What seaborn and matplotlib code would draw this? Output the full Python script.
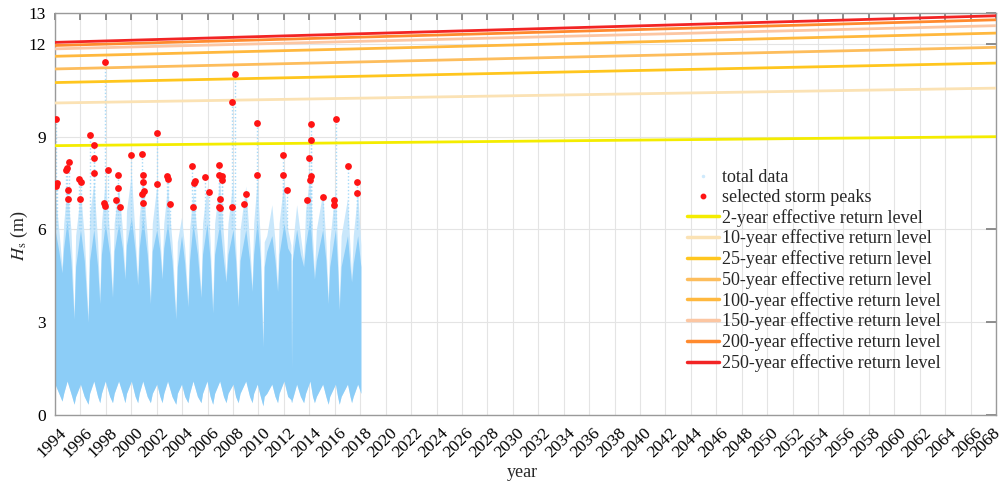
import numpy as np
import pandas as pd
import matplotlib
matplotlib.use("Agg")
import matplotlib.pyplot as plt
import matplotlib.transforms as mtransforms
from matplotlib.lines import Line2D
import seaborn as sns

# envelope of the hourly Hs record:
# time, top of the dense cloud, top of the sparse dots, bottom of the cloud
env_t = [1994.00, 1994.30, 1994.55, 1994.68, 1994.95, 1995.25, 1995.50, 1995.62, 1996.00, 1996.30,
         1996.60, 1996.72, 1997.05, 1997.35, 1997.52, 1997.65, 1997.95, 1998.30, 1998.52, 1998.65,
         1999.00, 1999.30, 1999.50, 1999.62, 2000.00, 2000.30, 2000.50, 2000.62, 2000.90, 2001.25,
         2001.50, 2001.65, 2002.00, 2002.25, 2002.42, 2002.55, 2002.85, 2003.20, 2003.50, 2003.62,
         2003.95, 2004.20, 2004.45, 2004.58, 2004.85, 2005.20, 2005.48, 2005.60, 2005.95, 2006.20,
         2006.40, 2006.55, 2006.95, 2007.25, 2007.45, 2007.60, 2008.00, 2008.20, 2008.40, 2008.55,
         2009.00, 2009.30, 2009.50, 2009.62, 2009.90, 2010.15, 2010.35, 2010.45, 2010.65, 2011.05,
         2011.30, 2011.50, 2011.62, 2012.00, 2012.30, 2012.55, 2012.60, 2012.66, 2013.00, 2013.30,
         2013.55, 2013.70, 2014.05, 2014.25, 2014.40, 2014.55, 2015.05, 2015.30, 2015.48, 2015.60,
         2016.05, 2016.22, 2016.35, 2016.50, 2017.00, 2017.20, 2017.32, 2017.45, 2017.80, 2018.05]
env_dense = [6.0, 5.3, 4.6, 5.4, 6.3, 5.0, 3.1, 4.8, 6.0, 5.0,
             3.0, 5.0, 6.0, 4.8, 3.6, 5.2, 6.2, 5.2, 3.8, 5.3,
             6.2, 5.4, 4.4, 5.5, 6.4, 5.3, 4.2, 5.4, 6.4, 5.2,
             3.6, 5.3, 6.0, 5.3, 4.4, 5.4, 6.2, 5.0, 3.1, 4.8,
             5.8, 4.9, 3.5, 5.0, 6.2, 5.2, 3.8, 5.2, 6.2, 5.0,
             3.3, 5.2, 6.2, 5.0, 4.3, 5.2, 6.0, 5.0, 3.5, 5.0,
             6.0, 5.0, 4.0, 5.2, 6.3, 5.0, 2.2, 4.8, 5.3, 5.8,
             5.0, 4.0, 5.2, 6.2, 5.4, 5.2, 1.5, 5.0, 6.0, 5.2,
             4.8, 5.5, 6.4, 5.2, 4.4, 5.0, 6.0, 5.0, 3.6, 4.8,
             6.0, 4.8, 3.4, 4.8, 5.8, 4.8, 4.3, 4.9, 5.8, 4.8]
env_sparse = [7.2, 6.0, 4.8, 6.2, 7.4, 6.0, 3.3, 5.8, 7.2, 5.8,
              3.2, 6.5, 7.5, 5.6, 3.8, 6.2, 7.6, 5.8, 4.0, 6.2,
              7.4, 6.0, 4.6, 6.6, 7.8, 5.8, 4.4, 6.4, 7.6, 5.8,
              3.8, 6.2, 7.4, 5.8, 4.6, 6.2, 7.4, 5.6, 3.3, 5.6,
              6.4, 5.4, 3.7, 6.0, 7.2, 5.8, 4.0, 6.2, 7.4, 5.6,
              3.5, 6.2, 7.6, 5.8, 4.5, 6.2, 7.6, 5.6, 3.7, 6.0,
              7.4, 5.6, 4.2, 6.2, 7.6, 5.6, 2.4, 5.6, 5.8, 6.8,
              5.6, 4.2, 6.2, 7.6, 6.0, 5.5, 1.7, 5.4, 6.8, 5.8,
              5.0, 6.6, 7.8, 5.8, 4.6, 6.0, 7.2, 5.6, 3.8, 5.6,
              7.4, 5.4, 3.6, 5.8, 7.0, 5.4, 4.5, 5.8, 7.2, 5.5]
env_low = [1.0, 0.7, 0.45, 0.7, 1.1, 0.7, 0.35, 0.6, 1.0, 0.6,
           0.35, 0.7, 1.1, 0.6, 0.4, 0.7, 1.1, 0.6, 0.4, 0.7,
           1.1, 0.7, 0.4, 0.7, 1.1, 0.6, 0.4, 0.7, 1.1, 0.6,
           0.4, 0.7, 1.0, 0.6, 0.4, 0.7, 1.1, 0.6, 0.35, 0.7,
           1.0, 0.6, 0.4, 0.7, 1.1, 0.6, 0.4, 0.7, 1.1, 0.6,
           0.35, 0.7, 1.1, 0.6, 0.4, 0.7, 1.0, 0.6, 0.4, 0.7,
           1.1, 0.6, 0.4, 0.7, 1.0, 0.6, 0.3, 0.6, 0.7, 1.0,
           0.6, 0.4, 0.7, 1.1, 0.6, 0.5, 0.4, 0.5, 1.0, 0.6,
           0.4, 0.7, 1.1, 0.6, 0.4, 0.6, 1.0, 0.6, 0.35, 0.6,
           1.0, 0.6, 0.35, 0.6, 1.0, 0.6, 0.4, 0.6, 1.0, 0.7]

# selected storm peaks
peak_year = [1994.08, 1994.08, 1994.15, 1994.84, 1994.92, 1995.08, 1995.05, 1995.05,
             1995.91, 1996.05, 1995.95, 1996.75, 1997.09, 1997.09, 1997.09, 1997.93,
             1997.88, 1997.95, 1998.19, 1998.95, 1998.95, 1998.80, 1999.10, 1999.95,
             2000.82, 2000.94, 2000.90, 2000.98, 2000.86, 2000.90, 2002.04, 2002.04,
             2002.78, 2002.91, 2003.02, 2004.77, 2005.00, 2004.95, 2004.87, 2005.82,
             2006.08, 2006.89, 2006.91, 2007.13, 2007.15, 2007.00, 2006.89, 2007.00,
             2008.15, 2007.92, 2007.89, 2009.02, 2008.88, 2009.86, 2009.86, 2011.90,
             2011.95, 2012.26, 2014.10, 2014.10, 2014.00, 2014.15, 2014.08, 2013.79,
             2015.09, 2016.09, 2015.96, 2015.96, 2017.06, 2017.77, 2017.77]
peak_hs = [9.58, 7.39, 7.50, 7.93, 7.98, 8.19, 7.26, 6.99,
           7.62, 7.52, 6.98, 9.04, 8.74, 8.31, 7.82, 11.40,
           6.87, 6.76, 7.91, 7.75, 7.34, 6.95, 6.74, 8.40,
           8.45, 7.75, 7.52, 7.24, 7.14, 6.85, 9.12, 7.47,
           7.73, 7.63, 6.83, 8.06, 7.57, 7.50, 6.71, 7.70,
           7.21, 8.09, 7.76, 7.73, 7.60, 6.99, 6.74, 6.70,
           11.03, 10.11, 6.71, 7.15, 6.82, 9.43, 7.76, 8.40,
           7.77, 7.28, 9.42, 8.89, 8.30, 7.73, 7.60, 6.96,
           7.06, 9.56, 6.95, 6.79, 8.05, 7.55, 7.17]

# effective return levels, value at 1994 and at 2068
rl_labels = ["2-year", "10-year", "25-year", "50-year", "100-year", "150-year", "200-year", "250-year"]
rl_start = [8.71, 10.09, 10.75, 11.19, 11.60, 11.84, 11.95, 12.05]
rl_end = [9.00, 10.57, 11.38, 11.89, 12.35, 12.59, 12.78, 12.91]
rl_colors = ["#f4ec00", "#fbe2b4", "#ffc61e", "#fdbd5c", "#ffb83e", "#fcc6a2", "#ff8a2e", "#f22424"]
rl_span = [1994, 2068]

x_ticks = list(range(1994, 2069, 2))
y_ticks = [0, 3, 6, 9, 12, 13]

sns.set_theme(style="white")
plt.rcParams["font.family"] = ["Liberation Serif", "DejaVu Serif"]
plt.rcParams["mathtext.fontset"] = "stix"

fig = plt.figure(figsize=(10.06, 4.83), dpi=100)
ax = fig.add_axes([0.0547, 0.1408, 0.9354, 0.8323])

ax.fill_between(env_t, env_low, env_sparse, color="#c9e7fb", lw=0, zorder=2)
ax.fill_between(env_t, env_low, env_dense, color="#8ccdf7", lw=0, zorder=2)
ax.vlines(peak_year, 6.0, peak_hs, colors="#a6d9f8", linestyles=(0, (1, 1.5)), lw=1, zorder=2)

rl_df = pd.DataFrame({
    "year": rl_span * len(rl_labels),
    "hs": [v for pair in zip(rl_start, rl_end) for v in pair],
    "level": [lab for lab in rl_labels for _ in rl_span],
})
sns.lineplot(data=rl_df, x="year", y="hs", hue="level", palette=dict(zip(rl_labels, rl_colors)),
             linewidth=2, legend=False, ax=ax, zorder=3)

sns.scatterplot(x=peak_year, y=peak_hs, color="#ff1414", s=24, linewidth=0, ax=ax, zorder=5)

ax.set_xlim(1994, 2068)
ax.set_ylim(0, 13)
ax.set_xticks(x_ticks)
ax.set_xticklabels([str(t) for t in x_ticks], rotation=45, fontsize=12.5)
ax.set_yticks(y_ticks)
ax.set_yticklabels([str(t) for t in y_ticks], fontsize=12.5)
ax.grid(True, color="#e4e4e4", lw=0.8, zorder=0)
ax.set_axisbelow(True)
ax.tick_params(axis="both", direction="in", color="#808080", top=True, right=True, labelcolor="black")
ax.tick_params(axis="y", length=7, pad=6.5)
ax.tick_params(axis="x", length=5, pad=7)
for sp in ax.spines.values():
    sp.set_color("#9a9a9a")
    sp.set_linewidth(1.0)

# nudge the rotated year labels left (after tick_params, which resets transforms)
xticks_obj = ax.xaxis.get_major_ticks()
for i, tk in enumerate(xticks_obj):
    dx = -10 if i == len(xticks_obj) - 1 else -3
    shift = mtransforms.ScaledTranslation(dx / 100, 0, fig.dpi_scale_trans)
    tk.label1.set_transform(tk.label1.get_transform() + shift)

ax.set_xlabel("year", fontsize=13)
ax.set_ylabel(r"$H_\mathrm{s}$ (m)", fontsize=13)
ax.xaxis.set_label_coords(0.497, -0.122)
ax.yaxis.set_label_coords(-0.027, 0.445)

handles = [Line2D([], [], marker=".", ls="", color="#cfeafc", ms=3),
           Line2D([], [], marker="o", ls="", color="#ff1414", ms=3.2)]
handles += [Line2D([], [], color=c, lw=2.5) for c in rl_colors]
labels = ["total data", "selected storm peaks"] + [f"{l} effective return level" for l in rl_labels]
ax.legend(handles, labels, loc="upper left", bbox_to_anchor=(0.672, 0.612), frameon=False,
          fontsize=13, labelspacing=0.16, handlelength=1.75, handletextpad=0.15, borderpad=0,
          borderaxespad=0)

fig.savefig("out.png", dpi=100)
